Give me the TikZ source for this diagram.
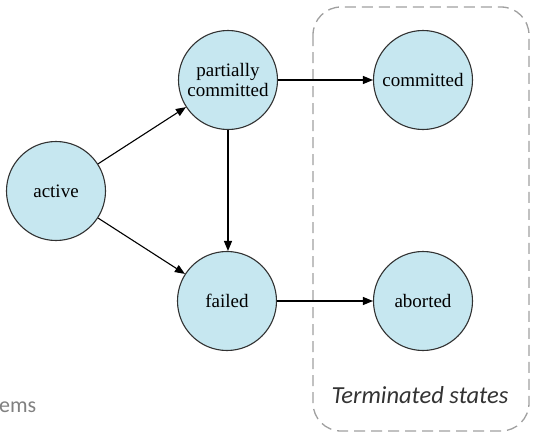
\documentclass[tikz,border=0pt]{standalone}
\usepackage{fontspec}
\setmainfont{Liberation Serif}
\newfontfamily\calib{Carlito}
\usetikzlibrary{arrows.meta}
\definecolor{statefill}{RGB}{198,231,240}
\definecolor{statedraw}{RGB}{50,50,50}
\definecolor{boxgray}{RGB}{160,160,160}
\definecolor{ghost}{RGB}{128,128,128}
\tikzset{
  statenode/.style={circle, draw=statedraw, line width=1.1pt, fill=statefill,
    minimum size=99pt, inner sep=0pt, align=center, font=\fontsize{19}{21}\selectfont},
  flow/.style={draw=black, line width=1.1pt, -{Triangle[length=10pt,width=8pt]}},
  termbox/.style={draw=boxgray, line width=1.3pt, dash pattern=on 11pt off 6pt, rounded corners=28pt}
}
\begin{document}
\begin{tikzpicture}[x=1pt,y=-1pt]
\useasboundingbox (0,0) rectangle (542,434);
\draw[termbox] (313,7) rectangle (529,431);
\node[statenode] (act) at (56,191) {active};
\node[statenode] (pc) at (228,80) {partially\\[-1pt]committed};
\node[statenode] (fail) at (227,301) {failed};
\node[statenode] (com) at (423,80) {committed};
\node[statenode] (abo) at (423,301) {aborted};
\draw[flow] (act) -- (pc);
\draw[flow] (act) -- (fail);
\draw[flow] (pc) -- (pc |- fail.north);
\draw[flow] (pc) -- (com);
\draw[flow] (fail) -- (abo);
\node[font=\calib\itshape\fontsize{24.5}{26}\selectfont, text=black!80, anchor=base, inner sep=0pt] (term) at (420,403) {Terminated states};
\node[font=\calib\fontsize{22}{24}\selectfont, text=ghost, anchor=base west, inner sep=0pt] (ems) at (-1,412) {ems};
\end{tikzpicture}
\end{document}
